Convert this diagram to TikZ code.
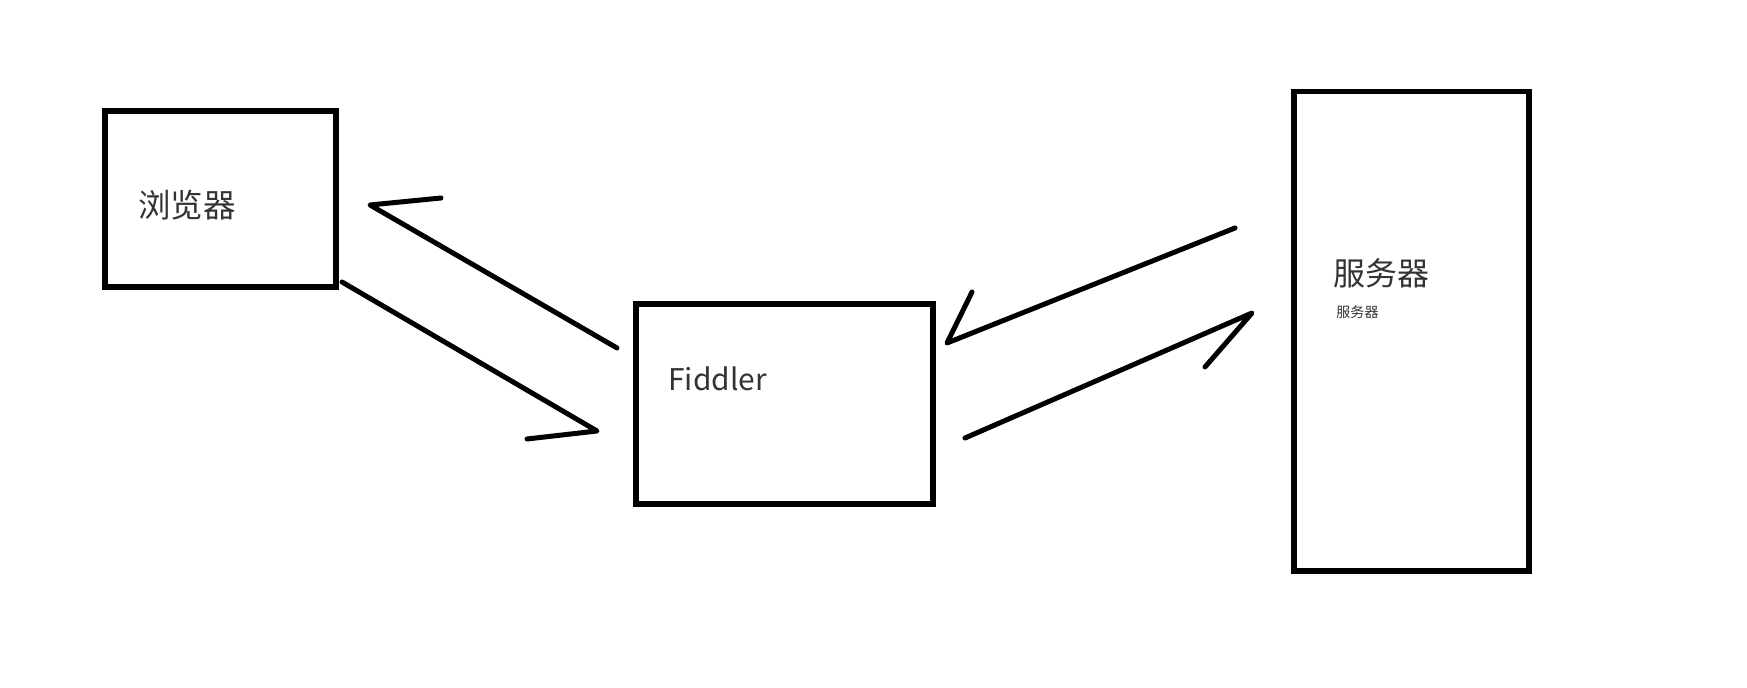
\documentclass[tikz,border=0pt]{standalone}
\usepackage{fontspec}
\setmainfont{Noto Sans CJK SC}
\tikzset{>=stealth}
\tikzset{
  box/.style={draw, line width=0.104cm, inner sep=0pt, outer sep=0pt},
  stroke/.style={line width=0.1cm, line cap=round, line join=round},
  label/.style={inner sep=0pt, text=black!80}
}

\begin{document}
\begin{tikzpicture}[x=0.02cm, y=-0.02cm]
\useasboundingbox (0,0) rectangle (1747,688);
\node[box, minimum width=4.62cm, minimum height=3.52cm] (browser) at (220.5,199) {};
\node[box, minimum width=5.94cm, minimum height=4.0cm] (fiddler) at (784.5,404) {};
\node[box, minimum width=4.7cm, minimum height=9.59cm] (server) at (1411.5,331.25) {};
\node[label, font=\fontsize{18.5pt}{20pt}\selectfont] (browserT) at (187,205) {浏览器};
\node[label, anchor=base west, font=\fontsize{17pt}{20pt}\selectfont] (fiddlerT) at (668,391) {Fiddler};
\node[label, font=\fontsize{18.2pt}{20pt}\selectfont] (serverT) at (1381.5,273.5) {服务器};
\node[label, font=\fontsize{8pt}{9pt}\selectfont] (serverS) at (1357.5,312) {服务器};
\coordinate (A) at (617,348);
\coordinate (B) at (370,205);
\coordinate (C) at (441,198);
\coordinate (D) at (342,282);
\coordinate (E) at (597,431);
\coordinate (F) at (527,439);
\coordinate (G) at (1235,228);
\coordinate (H) at (947,343);
\coordinate (I) at (972,292);
\coordinate (J) at (965,438);
\coordinate (K) at (1252,313);
\coordinate (L) at (1205,367);
\draw[stroke] (A) -- (B) -- (C);
\draw[stroke] (D) -- (E) -- (F);
\draw[stroke] (G) -- (H) -- (I);
\draw[stroke] (J) -- (K) -- (L);
\end{tikzpicture}
\end{document}
